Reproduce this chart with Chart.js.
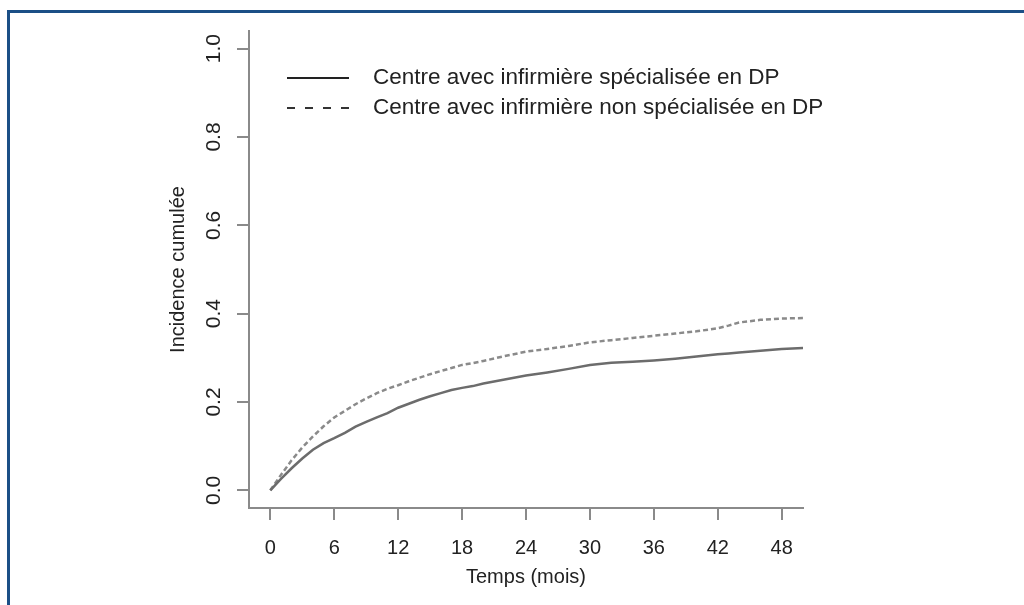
<!DOCTYPE html>
<html>
<head>
<meta charset="utf-8">
<script src="https://cdn.jsdelivr.net/npm/chart.js@4/dist/chart.umd.min.js"></script>
<style>
    html, body { margin: 0; padding: 0; background: #fff; }
    #wrap { position: relative; width: 1024px; height: 605px; overflow: hidden; }
    #frame {
        position: absolute; left: 7px; top: 10px; right: -10px; bottom: -10px;
        border-top: 3px solid #1b4f86; border-left: 3px solid #1b4f86;
    }
    canvas { position: absolute; left: 0; top: 0; }
</style>
</head>
<body>
<div id="wrap">
    <div id="frame"></div>
    <canvas id="chart" width="1024" height="605"></canvas>
</div>
<script>
// =========================
// DATA
// =========================
const months = [0, 1, 2, 3, 4, 5, 6, 7, 8, 9, 10, 11, 12, 13, 14, 15, 16, 17, 18, 19, 20,
    22, 24, 26, 28, 30, 32, 34, 36, 38, 40, 42, 43, 44, 46, 48, 50];

const specialisee = [0, 0.026, 0.05, 0.072, 0.092, 0.107, 0.118, 0.130, 0.144, 0.155, 0.165,
    0.175, 0.187, 0.196, 0.205, 0.213, 0.220, 0.227, 0.232, 0.236, 0.242,
    0.251, 0.260, 0.267, 0.275, 0.284, 0.289, 0.291, 0.294, 0.298, 0.303, 0.308, 0.310, 0.312,
    0.316, 0.320, 0.322];

const nonSpecialisee = [0, 0.035, 0.068, 0.097, 0.122, 0.145, 0.165, 0.180, 0.195, 0.208, 0.220,
    0.230, 0.238, 0.247, 0.255, 0.263, 0.270, 0.277, 0.284, 0.288, 0.293,
    0.304, 0.314, 0.320, 0.327, 0.335, 0.340, 0.345, 0.350, 0.355, 0.360, 0.367, 0.373, 0.380,
    0.386, 0.389, 0.390];

const seriesNames = ["Centre avec infirmière spécialisée en DP", "Centre avec infirmière non spécialisée en DP"];
const xTicks = [0, 6, 12, 18, 24, 30, 36, 42, 48];
const yTicks = [0, 0.2, 0.4, 0.6, 0.8, 1.0];

const FONT = "'Liberation Sans', Arial, Helvetica, sans-serif";
const AXIS = "#8a8a8a";
const TEXT = "#222";

// =========================
// PLUGINS
// =========================
// R-style y labels (rotated) + legend in the upper left of the plot
const extras = {
    id: "extras",
    afterDraw(chart) {
        const ctx = chart.ctx;
        const y = chart.scales.y;

        ctx.save();
        ctx.fillStyle = TEXT;
        ctx.font = "21px " + FONT;
        ctx.textAlign = "center";
        ctx.textBaseline = "middle";
        for (const v of yTicks) {
            ctx.save();
            ctx.translate(214, y.getPixelForValue(v));
            ctx.rotate(-Math.PI / 2);
            ctx.fillText(v.toFixed(1), 0, 0);
            ctx.restore();
        }
        ctx.restore();

        // legend
        const rows = [78, 108];
        chart.data.datasets.forEach((ds, i) => {
            ctx.save();
            ctx.strokeStyle = i === 0 ? "#222" : "#333";
            ctx.lineWidth = 2;
            ctx.setLineDash(i === 0 ? [] : [8, 10]);
            ctx.beginPath();
            ctx.moveTo(287, rows[i]);
            ctx.lineTo(349, rows[i]);
            ctx.stroke();
            ctx.setLineDash([]);
            ctx.fillStyle = TEXT;
            ctx.font = "22.5px " + FONT;
            ctx.textAlign = "left";
            ctx.textBaseline = "middle";
            ctx.fillText(seriesNames[i], 373, rows[i]);
            ctx.restore();
        });
    }
};

// =========================
// CHART
// =========================
const chart = new Chart(document.getElementById("chart"), {
    type: "line",
    data: {
        datasets: [
            {
                label: seriesNames[0],
                data: months.map((m, i) => ({ x: m, y: specialisee[i] })),
                borderColor: "#6c6c6c",
                borderWidth: 2.5,
                pointRadius: 0,
                tension: 0
            },
            {
                label: seriesNames[1],
                data: months.map((m, i) => ({ x: m, y: nonSpecialisee[i] })),
                borderColor: "#8a8a8a",
                borderWidth: 2.5,
                borderDash: [5, 3],
                pointRadius: 0,
                tension: 0
            }
        ]
    },
    options: {
        responsive: false,
        animation: false,
        layout: { padding: { left: 0, right: 221, top: 31, bottom: 0 } },
        plugins: { legend: { display: false }, tooltip: { enabled: false } },
        scales: {
            x: {
                type: "linear",
                min: -2,
                max: 50,
                afterBuildTicks: s => { s.ticks = xTicks.map(v => ({ value: v })); },
                afterFit: s => { s.height = 97; },
                grid: { drawOnChartArea: false, drawTicks: true, tickLength: 12, color: AXIS, lineWidth: 2 },
                border: { color: AXIS, width: 2 },
                ticks: { color: TEXT, font: { family: FONT, size: 20 }, padding: 16, maxRotation: 0 },
                title: { display: true, text: "Temps (mois)", color: TEXT, font: { family: FONT, size: 20 }, padding: { bottom: 16 } }
            },
            y: {
                min: -0.04,
                max: 1.04,
                afterBuildTicks: s => { s.ticks = yTicks.map(v => ({ value: v })); },
                afterFit: s => { s.width = 249; },
                grid: { drawOnChartArea: false, drawTicks: true, tickLength: 12, color: AXIS, lineWidth: 2 },
                border: { color: AXIS, width: 2 },
                ticks: { display: false },
                title: { display: true, text: "Incidence cumulée", color: TEXT, font: { family: FONT, size: 20 }, padding: { top: 166 } }
            }
        }
    },
    plugins: [extras]
});
</script>
</body>
</html>
